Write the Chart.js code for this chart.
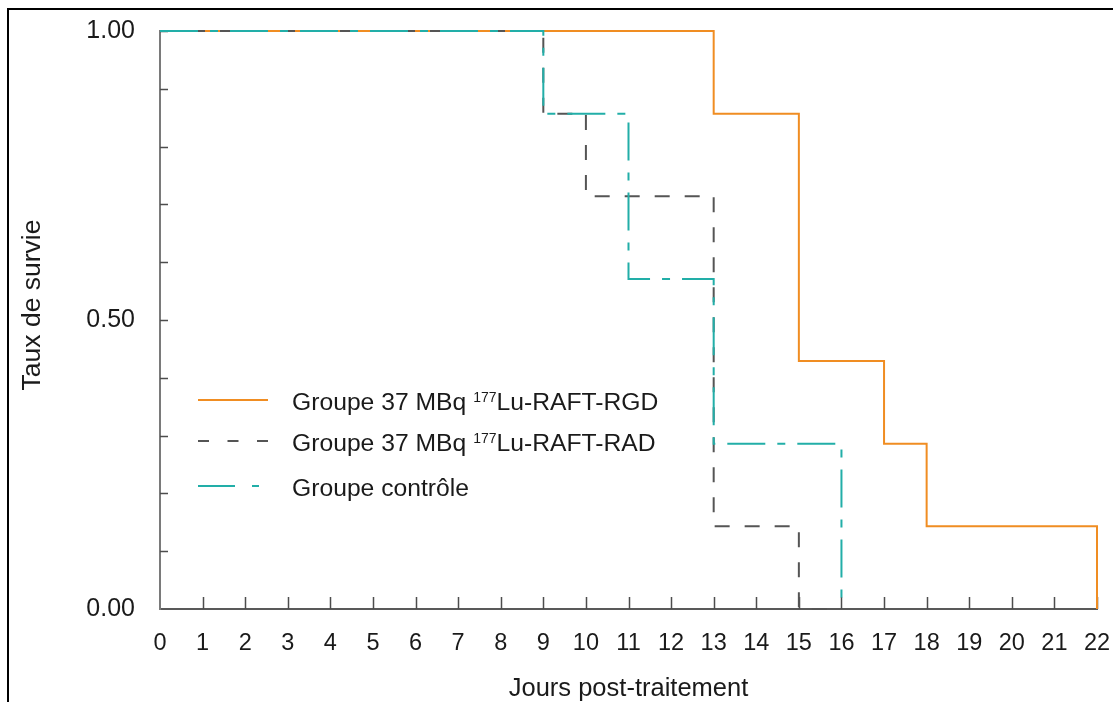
<!DOCTYPE html>
<html>
<head>
<meta charset="utf-8">
<script src="https://cdn.jsdelivr.net/npm/chart.js@4.4.1/dist/chart.umd.min.js"></script>
<style>
  html, body { margin: 0; padding: 0; background: #fff; }
  #wrap { position: relative; width: 1113px; height: 702px; overflow: hidden; }
  #frame { position: absolute; left: 7px; top: 8px; right: -4px; bottom: -4px;
           border-left: 2px solid #000; border-top: 2px solid #000; pointer-events: none; }
  canvas { display: block; }
</style>
</head>
<body>
<div id="wrap">
  <canvas id="chart" width="1113" height="702"></canvas>
  <div id="frame"></div>
</div>
<script>
// Kaplan-Meier survival curves (step points: day of event, survival after it)
const rgdDays = [0, 13, 15, 17, 18, 22];
const rgdSurvival = [1.0, 0.857, 0.429, 0.286, 0.143, 0.0];

const radDays = [0, 9, 10, 13, 15, 16];
const radSurvival = [1.0, 0.857, 0.714, 0.143, 0.0, 0.0];

const controlDays = [0, 9, 11, 13, 16];
const controlSurvival = [1.0, 0.857, 0.571, 0.286, 0.0];

// Series names; text between ^ marks is set as a superscript
const seriesNames = [
  'Groupe 37 MBq ^177^Lu-RAFT-RGD',
  'Groupe 37 MBq ^177^Lu-RAFT-RAD',
  'Groupe contrôle'
];

const xTickValues = [0, 1, 2, 3, 4, 5, 6, 7, 8, 9, 10, 11, 12, 13, 14, 15, 16, 17, 18, 19, 20, 21, 22];
const yLabelValues = [0, 0.5, 1];
const yLabelTexts = ['0.00', '0.50', '1.00'];

const xTitle = 'Jours post-traitement';
const yTitle = 'Taux de survie';

const FONT = '"Liberation Sans", Arial, Helvetica, sans-serif';
const TEXT = '#1a1a1a';
const ORANGE = '#f08d22';
const GREY = '#555555';
const TEAL = '#22aea8';

function toPoints(xs, ys) {
  return xs.map((x, i) => ({ x: x, y: ys[i] }));
}

// Draws inward tick marks, the rotated y title and the legend
const decorations = {
  id: 'decorations',
  beforeDatasetsDraw(chart) {
    const ctx = chart.ctx;
    const xs = chart.scales.x, ys = chart.scales.y;
    const area = chart.chartArea;
    ctx.save();
    ctx.strokeStyle = '#4d4d4d';
    ctx.lineWidth = 1.5;
    ctx.beginPath();
    xs.ticks.forEach(t => {
      if (t.value <= xs.min) return;
      const px = Math.round(xs.getPixelForValue(t.value)) + 0.5;
      ctx.moveTo(px, area.bottom);
      ctx.lineTo(px, area.bottom - 12);
    });
    ys.ticks.forEach(t => {
      if (t.value <= ys.min + 1e-9) return;
      const py = Math.round(ys.getPixelForValue(t.value)) + 0.5;
      ctx.moveTo(area.left, py);
      ctx.lineTo(area.left + 8, py);
    });
    ctx.stroke();
    ctx.restore();
  },
  afterDraw(chart, args, opts) {
    const ctx = chart.ctx;
    const area = chart.chartArea;
    ctx.save();
    // y axis title
    ctx.fillStyle = TEXT;
    ctx.font = opts.yTitleSize + 'px ' + FONT;
    ctx.textAlign = 'center';
    ctx.textBaseline = 'middle';
    ctx.translate(opts.yTitleX, (area.top + area.bottom) / 2 + opts.yTitleShift);
    ctx.rotate(-Math.PI / 2);
    ctx.fillText(yTitle, 0, 0);
    ctx.restore();

    // legend
    ctx.save();
    chart.data.datasets.forEach((ds, i) => {
      const y = opts.legendRows[i];
      ctx.strokeStyle = ds.borderColor;
      ctx.lineWidth = 2;
      ctx.setLineDash(opts.legendDash[i]);
      ctx.beginPath();
      ctx.moveTo(opts.legendX, y);
      ctx.lineTo(opts.legendX + opts.legendLen, y);
      ctx.stroke();
      ctx.setLineDash([]);

      let x = opts.legendTextX;
      const base = y + 9.5;
      ctx.fillStyle = TEXT;
      ctx.textAlign = 'left';
      ctx.textBaseline = 'alphabetic';
      ds.label.split('^').forEach((part, k) => {
        if (!part) return;
        if (k % 2 === 1) {
          ctx.font = '14px ' + FONT;
          ctx.fillText(part, x, base - 8);
        } else {
          ctx.font = opts.legendSize + 'px ' + FONT;
          ctx.fillText(part, x, base);
        }
        x += ctx.measureText(part).width;
      });
    });
    ctx.restore();
  }
};

const commonLine = {
  stepped: 'before',
  fill: false,
  pointRadius: 0,
  pointHoverRadius: 0,
  borderWidth: 2,
  clip: 6,
  borderCapStyle: 'butt'
};

new Chart(document.getElementById('chart'), {
  type: 'line',
  data: {
    datasets: [
      Object.assign({}, commonLine, {
        label: seriesNames[0],
        data: toPoints(rgdDays, rgdSurvival),
        borderColor: ORANGE,
        order: 2
      }),
      Object.assign({}, commonLine, {
        label: seriesNames[1],
        data: toPoints(radDays, radSurvival),
        borderColor: GREY,
        borderDash: [15, 15],
        order: 1
      }),
      Object.assign({}, commonLine, {
        label: seriesNames[2],
        data: toPoints(controlDays, controlSurvival),
        borderColor: TEAL,
        borderDash: [38, 12, 8, 12],
        order: 0
      })
    ]
  },
  options: {
    responsive: false,
    animation: false,
    events: [],
    layout: { padding: { top: 31, right: 16, left: 0, bottom: 0 } },
    plugins: {
      legend: { display: false },
      tooltip: { enabled: false },
      decorations: {
        yTitleX: 33,
        yTitleSize: 26.5,
        yTitleShift: -15,
        legendSize: 24.7,
        legendX: 198,
        legendLen: 70,
        legendTextX: 292,
        legendRows: [400, 441, 486],
        legendDash: [[], [11, 18.5], [37, 17, 7, 100]]
      }
    },
    scales: {
      x: {
        type: 'linear',
        min: 0,
        max: 22,
        afterFit(scale) { scale.height = 93; },
        afterBuildTicks(scale) { scale.ticks = xTickValues.map(v => ({ value: v })); },
        ticks: {
          autoSkip: false,
          maxRotation: 0,
          padding: 0,
          color: TEXT,
          font: { family: FONT, size: 23.5 },
          callback: v => String(v)
        },
        grid: { display: true, drawOnChartArea: false, drawTicks: true, tickLength: 20, tickColor: 'rgba(0,0,0,0)' },
        border: { display: true, color: '#595959', width: 2 },
        title: {
          display: true,
          text: xTitle,
          color: TEXT,
          font: { family: FONT, size: 25.5, lineHeight: 1 },
          padding: { top: 0, bottom: 0 }
        }
      },
      y: {
        type: 'linear',
        min: 0,
        max: 1,
        afterFit(scale) { scale.width = 160; },
        ticks: {
          stepSize: 0.1,
          autoSkip: false,
          padding: 0,
          color: TEXT,
          font: { family: FONT, size: 25 },
          callback: v => {
            const k = yLabelValues.findIndex(t => Math.abs(t - v) < 1e-6);
            return k >= 0 ? yLabelTexts[k] : '';
          }
        },
        grid: { display: true, drawOnChartArea: false, drawTicks: true, tickLength: 25, tickColor: 'rgba(0,0,0,0)' },
        border: { display: true, color: '#7a7a7a', width: 2 }
      }
    }
  },
  plugins: [decorations]
});
</script>
</body>
</html>
